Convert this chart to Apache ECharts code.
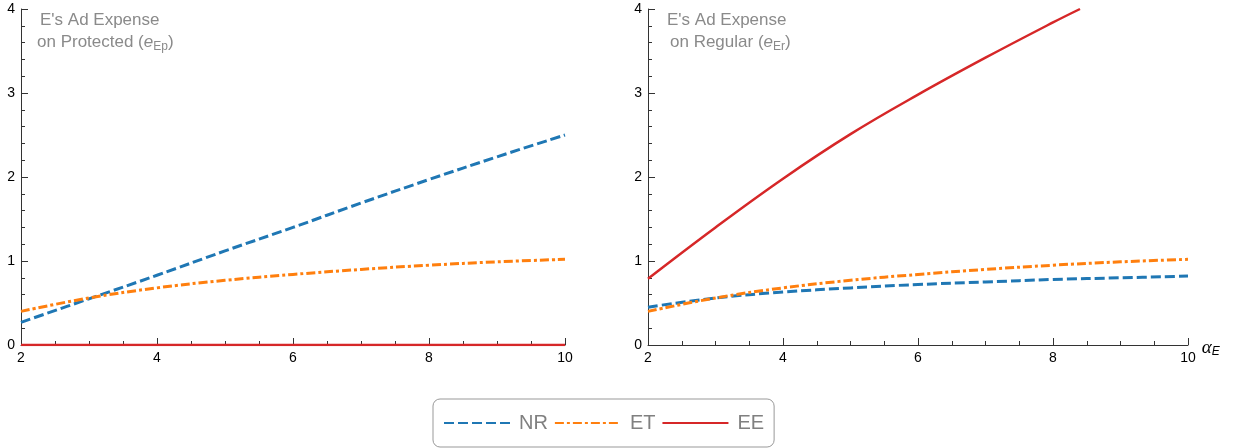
<!DOCTYPE html>
<html><head><meta charset="utf-8">
<script src="https://cdn.jsdelivr.net/npm/echarts@6/dist/echarts.min.js"></script>
<style>html,body{margin:0;padding:0;background:#fff}#c{width:1238px;height:448px}</style>
</head><body><div id="c"></div>
<script>
const xs = [2,3,4,5,6,7,8,9,10];
const nrProtected = [0.27,0.55,0.83,1.12,1.40,1.69,1.97,2.24,2.50];
const etProtected = [0.40,0.56,0.68,0.77,0.84,0.90,0.95,0.99,1.02];
const eeProtected = [0,0,0,0,0,0,0,0,0];
const nrRegular = [0.45,0.56,0.63,0.68,0.72,0.75,0.78,0.80,0.82];
const etRegular = [0.40,0.56,0.68,0.77,0.84,0.90,0.95,0.99,1.02];
const eeRegularX = [2,3,4,5,6,7,8,8.4];
const eeRegular = [0.79,1.40,1.98,2.51,2.98,3.42,3.84,4.00];
const seriesNames = ['NR','ET','EE'];
const colors = ['#1f77b4','#ff7f0e','#d62728'];

const pair = (x, y) => x.map((v,i)=>[v,y[i]]);
const styles = [
  {type:[10,4], width:3},
  {type:[9,3,3,3], width:3},
  {type:'solid', width:2.5}
];
function mk(name, data, gi){
  const k = seriesNames.indexOf(name);
  return {name, type:'line', xAxisIndex:gi, yAxisIndex:gi, data, smooth:0.4,
    symbol:'none', showSymbol:false, color:colors[k],
    lineStyle:{color:colors[k], width:styles[k].width, type:styles[k].type},
    z: 3, animation:false};
}
const FONT = 'Liberation Sans, Arial, sans-serif';
function xAxis(gi){
  return {type:'value', gridIndex:gi, min:2, max:10, interval:2,
    axisLine:{show:true, onZero:false, lineStyle:{color:'#333', width:1}},
    axisTick:{show:true, inside:true, length:7, lineStyle:{color:'#333'}},
    minorTick:{show:true, splitNumber:4, length:4, lineStyle:{color:'#333'}},
    splitLine:{show:false},
    axisLabel:{color:'#000', fontSize:14, margin:6, fontFamily:FONT},
    name: gi===1 ? '{a|α}{s|E}' : '',
    nameLocation:'end', nameGap:2,
    nameTextStyle:{rich:{a:{fontStyle:'italic', fontSize:19, color:'#000', fontFamily:'Liberation Serif, serif', padding:[6,0,0,0]},
      s:{fontStyle:'italic', fontSize:12, color:'#000', verticalAlign:'bottom', padding:[14,0,0,0], fontFamily:FONT}}}
  };
}
function yAxis(gi){
  return {type:'value', gridIndex:gi, min:0, max:4, interval:1,
    axisLine:{show:true, lineStyle:{color:'#333', width:1}},
    axisTick:{show:true, inside:true, length:7, lineStyle:{color:'#333'}},
    minorTick:{show:true, splitNumber:5, length:4, lineStyle:{color:'#333'}},
    splitLine:{show:false},
    axisLabel:{color:'#000', fontSize:14, margin:6, fontFamily:FONT}};
}
const base = {fontSize:17, color:'#8a8a8a', fontWeight:'normal', fontFamily:FONT, lineHeight:22};
const titleRich = {
  t: base,
  p3: Object.assign({}, base, {padding:[0,0,0,3]}),
  e: Object.assign({}, base, {fontStyle:'italic'}),
  s: {fontSize:12, color:'#8a8a8a', fontWeight:'normal', fontFamily:FONT, verticalAlign:'bottom', lineHeight:22, padding:[7,0,0,0]}
};
const chart = echarts.init(document.getElementById('c'), null, {renderer:'canvas'});
chart.setOption({
  animation:false,
  backgroundColor:'#fff',
  title:[
    {text:"{p3|E's Ad Expense}\n{t|on Protected (}{e|e}{s|Ep}{t|)}", left:37, top:9, padding:0,
      textStyle:{rich:titleRich, fontWeight:'normal', align:'left'}},
    {text:"{t|E's Ad Expense}\n{p3|on Regular (}{e|e}{s|Er}{t|)}", left:667, top:9, padding:0,
      textStyle:{rich:titleRich, fontWeight:'normal', align:'left'}}
  ],
  grid:[
    {left:21, right:673, top:9, bottom:103},
    {left:648, right:50, top:9, bottom:103}
  ],
  xAxis:[xAxis(0), xAxis(1)],
  yAxis:[yAxis(0), yAxis(1)],
  legend:{
    data:seriesNames, bottom:1, left:433,
    itemWidth:66, itemHeight:14, itemGap:6,
    itemStyle:{opacity:0},
    borderColor:'#999', borderWidth:1, borderRadius:7,
    padding:[14,10,14,10],
    textStyle:{fontSize:20, color:'#808080', fontFamily:FONT, padding:[0,0,0,4]}
  },
  series:[
    mk('NR',pair(xs,nrProtected),0),
    mk('ET',pair(xs,etProtected),0),
    mk('EE',pair(xs,eeProtected),0),
    mk('NR',pair(xs,nrRegular),1),
    mk('ET',pair(xs,etRegular),1),
    mk('EE',pair(eeRegularX,eeRegular),1)
  ]
});
</script></body></html>
